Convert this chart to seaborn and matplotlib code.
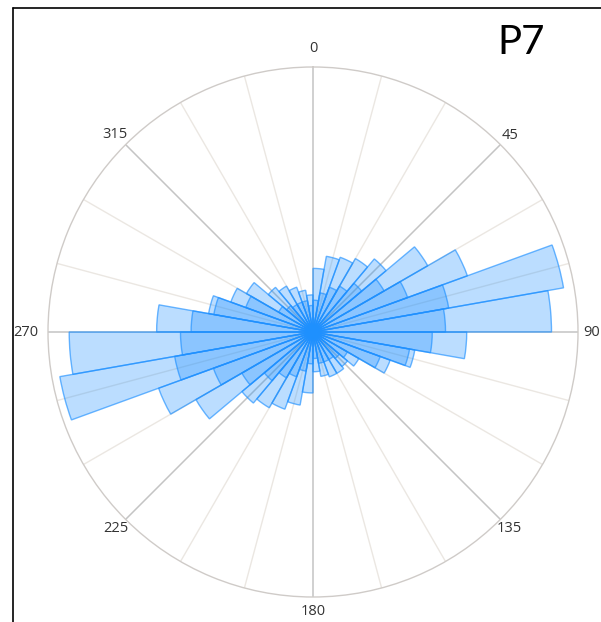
import numpy as np
import matplotlib
matplotlib.use("Agg")
import matplotlib.pyplot as plt
from matplotlib.lines import Line2D
import seaborn as sns

# 10-degree azimuth bins (start of each bin, degrees clockwise from north)
bin_start = list(range(0, 360, 10))

# Relative frequency per bin, outer (all measurements) in % of the outer ring
outer = [24, 29, 30, 32, 36, 50, 62, 96, 90,
         58, 39, 31, 20, 17, 18, 18, 17, 15,
         23, 28, 31, 33, 35, 51, 62, 97, 92,
         59, 40, 33, 29, 22, 20, 18, 16, 14]

# Inner layer (subset of measurements), same bins
inner = [12, 15, 18, 20, 24, 31, 38, 52, 50,
         45, 37, 27, 15, 13, 12, 12, 12, 10,
         12, 15, 18, 20, 24, 31, 40, 53, 50,
         46, 38, 27, 15, 13, 12, 12, 12, 10]

# Direction labels shown around the rim
label_angles = [0, 45, 90, 135, 180, 225, 270, 315]

sns.set_theme(style="white")
plt.rcParams["font.family"] = ["Open Sans", "DejaVu Sans"]

blue = sns.color_palette(["#1E90FF"])[0]
face = (*blue, 0.30)
edge = (*blue, 0.65)

fig = plt.figure(figsize=(6.01, 6.22), dpi=100)
ax = fig.add_axes([48 / 601, 25 / 622, 530 / 601, 530 / 622], projection="polar")
ax.set_theta_zero_location("N")
ax.set_theta_direction(-1)

theta = np.deg2rad(np.array(bin_start) + 5)
width = np.deg2rad(10)
for series in (outer, inner):
    ax.bar(theta, series, width=width, bottom=0, color=face,
           edgecolor=edge, linewidth=1.0, zorder=3)

ax.set_ylim(0, 100)
ax.set_yticks([])

grid_angles = list(range(0, 360, 15))
ax.set_xticks(np.deg2rad(grid_angles))
ax.set_xticklabels([])
ax.grid(True, axis="x")
for a, gl in zip(grid_angles, ax.xaxis.get_gridlines()):
    if a % 45 == 0:
        gl.set_color("#c4c4c4")
        gl.set_linewidth(1.1)
    else:
        gl.set_color("#ebe7e2")
        gl.set_linewidth(1.0)
    gl.set_linestyle("-")
    gl.set_zorder(1)

# Rim labels: radial distance (as a fraction of the outer ring) per direction
label_radius = {0: 1.07, 45: 1.05, 90: 1.05, 135: 1.05,
                180: 1.055, 225: 1.05, 270: 1.085, 315: 1.055}
for a in label_angles:
    ax.text(np.deg2rad(a), 100 * label_radius[a], str(a), fontsize=10.5,
            color="#333333", ha="center", va="center", clip_on=False)

ax.spines["polar"].set_color("#cfcbc8")
ax.spines["polar"].set_linewidth(1.0)

fig.text(521 / 601, 1 - 43 / 622, "P7", fontsize=29, family=["Lato", "DejaVu Sans"],
         ha="center", va="center", color="black")

# Frame edges at top and left
fig.add_artist(Line2D([13 / 601, 1.0], [1 - 8 / 622, 1 - 8 / 622],
                      color="black", linewidth=1.2, transform=fig.transFigure))
fig.add_artist(Line2D([13 / 601, 13 / 601], [0.0, 1 - 8 / 622],
                      color="black", linewidth=1.2, transform=fig.transFigure))

fig.savefig("out.png", dpi=100, facecolor="white")
